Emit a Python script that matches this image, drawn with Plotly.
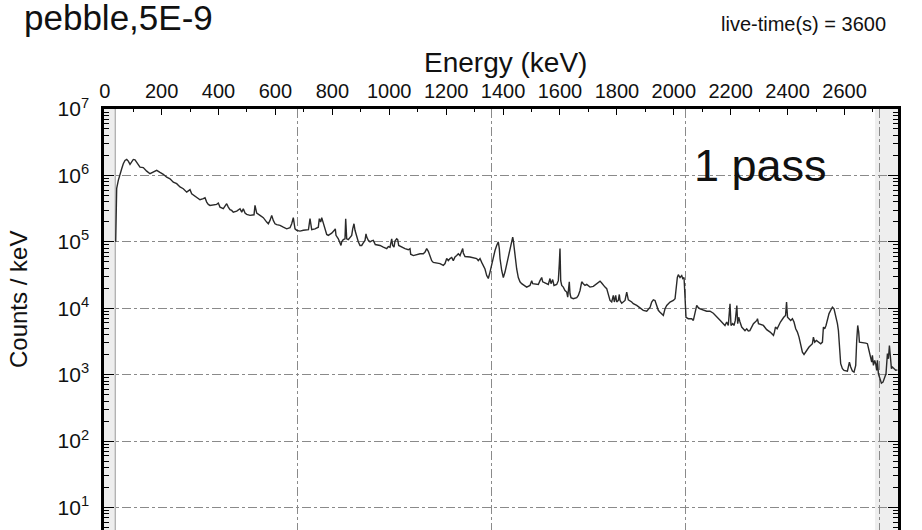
import plotly.graph_objects as go

# Gamma spectrum: energy (keV) and counts per keV
ENERGY_KEV = [
    38.6, 42.1, 47.8, 53.7, 59.7, 65.3, 71.3, 77.3, 82.9, 88.9, 94.9, 100.5, 106.5, 112.4,
    118.1, 124.0, 135.6, 141.6, 147.6, 159.2, 170.8, 182.7, 194.3, 205.9, 217.9, 229.5,
    241.1, 253.0, 264.6, 276.2, 288.2, 293.8, 299.8, 305.7, 311.4, 323.3, 334.9, 346.5,
    352.5, 358.4, 364.1, 370.0, 381.6, 393.6, 399.2, 405.2, 416.8, 428.7, 434.4, 440.3,
    446.3, 451.9, 463.9, 475.5, 481.5, 487.1, 493.1, 499.0, 510.6, 524.7, 528.2, 534.2,
    545.8, 557.4, 569.3, 575.0, 580.9, 586.9, 592.5, 598.5, 604.5, 616.1, 627.7, 639.6,
    651.2, 657.2, 662.8, 668.8, 674.7, 686.4, 698.0, 709.9, 716.0, 721.5, 727.5, 739.1,
    750.7, 754.2, 759.1, 762.6, 768.3, 774.2, 780.2, 785.8, 797.7, 806.9, 810.4, 812.9,
    821.0, 830.4, 832.9, 838.5, 844.5, 846.9, 850.5, 856.1, 862.1, 868.0, 871.6, 876.1,
    879.6, 885.6, 891.2, 897.2, 903.2, 908.8, 914.8, 918.3, 920.8, 926.4, 932.4, 938.3,
    944.0, 951.0, 967.5, 979.1, 991.1, 996.7, 1002.7, 1008.6, 1012.1, 1016.7, 1020.2,
    1026.2, 1029.7, 1033.2, 1043.8, 1055.4, 1067.0, 1073.0, 1075.4, 1084.6, 1108.1,
    1119.7, 1125.7, 1131.6, 1137.3, 1143.2, 1149.2, 1154.8, 1166.8, 1178.4, 1190.0,
    1196.0, 1201.9, 1207.6, 1213.5, 1219.5, 1225.1, 1231.1, 1237.1, 1242.7, 1248.7,
    1254.6, 1258.2, 1260.3, 1266.2, 1283.8, 1295.4, 1307.3, 1313.0, 1319.0, 1324.9,
    1330.6, 1336.5, 1342.5, 1348.1, 1354.1, 1360.1, 1365.7, 1371.7, 1377.6, 1383.3,
    1386.8, 1389.3, 1395.2, 1400.9, 1406.8, 1412.8, 1418.4, 1424.4, 1430.4, 1433.9,
    1436.0, 1442.0, 1447.9, 1453.6, 1459.5, 1465.4, 1477.0, 1483.0, 1494.6, 1500.6,
    1504.2, 1523.9, 1529.8, 1535.8, 1539.3, 1559.0, 1565.0, 1568.5, 1574.4, 1579.0,
    1588.5, 1594.2, 1597.7, 1600.1, 1602.6, 1606.1, 1611.7, 1617.7, 1623.7, 1627.2,
    1632.8, 1635.3, 1638.8, 1646.9, 1658.9, 1664.5, 1670.5, 1676.4, 1682.0, 1688.0,
    1694.0, 1699.6, 1705.6, 1717.2, 1729.2, 1740.8, 1746.7, 1752.4, 1758.3, 1764.3,
    1769.9, 1775.9, 1781.8, 1787.5, 1791.0, 1795.9, 1799.4, 1805.0, 1808.6, 1811.0,
    1817.0, 1828.6, 1834.6, 1840.2, 1852.1, 1857.8, 1869.7, 1881.3, 1892.9, 1904.9,
    1916.9, 1922.4, 1928.1, 1934.0, 1940.0, 1945.6, 1951.6, 1963.3, 1969.2, 1975.2,
    1986.8, 1998.4, 2004.4, 2007.9, 2012.5, 2015.9, 2021.9, 2027.9, 2031.5, 2036.0,
    2039.5, 2043.0, 2051.1, 2063.1, 2068.7, 2074.7, 2080.6, 2086.3, 2092.3, 2115.8,
    2127.4, 2139.0, 2151.0, 2162.6, 2174.0, 2180.0, 2185.9, 2191.6, 2197.6, 2201.1,
    2207.0, 2211.6, 2216.2, 2221.6, 2224.6, 2228.1, 2232.7, 2238.7, 2250.3, 2256.3,
    2261.9, 2267.4, 2279.9, 2291.9, 2294.1, 2297.6, 2314.9, 2326.5, 2338.7, 2350.3,
    2353.8, 2357.3, 2363.2, 2374.8, 2386.4, 2392.8, 2396.3, 2399.8, 2404.9, 2410.9,
    2416.9, 2422.5, 2428.5, 2434.5, 2440.1, 2446.1, 2452.0, 2457.7, 2463.7, 2475.3,
    2487.2, 2490.7, 2495.3, 2501.3, 2516.4, 2522.4, 2525.9, 2530.4, 2535.0, 2539.9,
    2545.6, 2551.5, 2557.5, 2563.1, 2569.1, 2575.1, 2578.6, 2580.6, 2584.2, 2586.6,
    2592.6, 2598.3, 2610.2, 2613.7, 2617.2, 2621.8, 2627.7, 2633.4, 2639.4, 2642.9,
    2646.4, 2649.9, 2652.4, 2674.5, 2680.5, 2686.1, 2692.1, 2695.6, 2698.1, 2701.6,
    2706.1, 2709.6, 2713.2, 2715.7, 2719.2, 2724.8, 2729.7, 2735.3, 2738.8, 2742.3,
    2745.8, 2750.8, 2754.3, 2757.8, 2761.4, 2764.9, 2768.4, 2780.0, 2785.9,
]

COUNTS_PER_KEV = [
    1.0e5, 6.4e5, 8.4e5, 1.06e6, 1.26e6, 1.50e6, 1.68e6, 1.74e6, 1.64e6, 1.47e6, 1.64e6,
    1.74e6, 1.72e6, 1.59e6, 1.42e6, 1.33e6, 1.31e6, 1.22e6, 1.16e6, 1.06e6, 1.12e6,
    1.19e6, 1.11e6, 1.04e6, 9.4e5, 8.9e5, 7.9e5, 7.5e5, 6.7e5, 6.3e5, 5.6e5, 5.9e5,
    6.1e5, 5.3e5, 5.1e5, 4.6e5, 4.3e5, 4.46e5, 4.6e5, 3.96e5, 3.66e5, 3.53e5, 3.62e5,
    3.66e5, 3.83e5, 3.33e5, 3.15e5, 3.75e5, 3.33e5, 3.04e5, 2.97e5, 2.80e5, 2.90e5,
    3.15e5, 2.80e5, 3.15e5, 2.71e5, 2.59e5, 2.50e5, 2.55e5, 3.53e5, 2.71e5, 2.50e5,
    2.31e5, 1.98e5, 1.87e5, 2.10e5, 2.50e5, 2.10e5, 1.87e5, 1.81e5, 1.77e5, 1.66e5,
    1.57e5, 1.63e5, 1.87e5, 2.31e5, 1.57e5, 1.49e5, 1.45e5, 1.49e5, 1.52e5, 1.52e5,
    2.23e5, 1.52e5, 1.57e5, 1.66e5, 2.23e5, 1.98e5, 2.31e5, 1.87e5, 1.57e5, 1.29e5,
    1.25e5, 1.35e5, 1.49e5, 1.57e5, 1.25e5, 1.11e5, 8.8e4, 1.0e5, 1.08e5, 1.11e5,
    2.23e5, 1.11e5, 1.08e5, 1.15e5, 1.25e5, 1.57e5, 1.87e5, 1.49e5, 1.18e5, 1.0e5,
    8.8e4, 8.8e4, 9.6e4, 1.05e5, 1.32e5, 1.18e5, 1.05e5, 1.0e5, 1.03e5, 1.05e5, 9.1e4,
    8.8e4, 8.3e4, 7.9e4, 8.5e4, 8.3e4, 1.11e5, 8.8e4, 8.3e4, 1.03e5, 1.11e5, 1.08e5,
    8.8e4, 8.3e4, 7.9e4, 7.6e4, 7.9e4, 6.5e4, 6.2e4, 6.6e4, 6.6e4, 7.0e4, 7.9e4,
    7.2e4, 6.0e4, 5.2e4, 4.9e4, 4.8e4, 4.7e4, 4.4e4, 4.7e4, 5.6e4, 5.2e4, 5.6e4,
    5.8e4, 5.2e4, 5.9e4, 6.2e4, 6.6e4, 6.2e4, 7.0e4, 7.9e4, 6.8e4, 6.0e4, 5.9e4,
    5.8e4, 5.6e4, 5.2e4, 5.6e4, 4.9e4, 4.4e4, 3.9e4, 3.1e4, 2.8e4, 3.5e4, 4.7e4,
    5.9e4, 7.4e4, 8.8e4, 1.0e5, 7.9e4, 5.6e4, 3.7e4, 2.9e4, 3.5e4, 4.7e4, 5.9e4,
    7.9e4, 1.11e5, 1.18e5, 1.05e5, 6.0e4, 3.9e4, 2.9e4, 2.5e4, 2.34e4, 2.2e4, 2.08e4,
    2.2e4, 2.6e4, 2.34e4, 2.28e4, 2.6e4, 2.9e4, 2.5e4, 2.28e4, 2.8e4, 2.34e4, 2.7e4,
    2.2e4, 2.28e4, 2.6e4, 4.7e4, 7.9e4, 2.6e4, 2.2e4, 2.08e4, 1.85e4, 1.75e4, 1.47e4,
    2.5e4, 1.65e4, 1.44e4, 1.39e4, 1.44e4, 1.56e4, 1.85e4, 2.5e4, 2.34e4, 2.2e4,
    2.28e4, 2.2e4, 2.08e4, 2.13e4, 2.34e4, 2.56e4, 2.4e4, 2.2e4, 2.08e4, 1.97e4,
    1.61e4, 1.31e4, 1.24e4, 1.56e4, 1.24e4, 1.56e4, 1.24e4, 1.31e4, 1.61e4, 1.31e4,
    1.19e4, 1.31e4, 1.75e4, 1.34e4, 1.24e4, 1.17e4, 1.10e4, 1.02e4, 9.3e3, 9.0e3,
    1.04e4, 1.24e4, 1.34e4, 1.31e4, 1.10e4, 9.3e3, 8.7e3, 7.8e3, 9.8e3, 1.10e4,
    1.24e4, 1.31e4, 1.39e4, 2.2e4, 2.9e4, 3.2e4, 2.9e4, 3.1e4, 2.8e4, 2.9e4,
    1.31e4, 7.3e3, 6.95e3, 6.95e3, 6.55e3, 8.3e3, 1.10e4, 1.02e4, 9.8e3, 9.0e3,
    9.0e3, 8.4e3, 7.3e3, 6.6e3, 5.85e3, 5.5e3, 6.2e3, 5.5e3, 1.17e4, 5.5e3,
    5.85e3, 5.5e3, 6.55e3, 1.10e4, 5.85e3, 7.3e3, 6.2e3, 5.2e3, 4.6e3, 4.9e3,
    4.55e3, 4.6e3, 5.85e3, 6.55e3, 6.95e3, 5.85e3, 5.5e3, 4.75e3, 4.37e3, 3.9e3,
    4.37e3, 5.2e3, 4.9e3, 6.2e3, 7.3e3, 7.8e3, 1.24e4, 7.3e3, 6.95e3, 6.55e3,
    6.95e3, 6.2e3, 4.9e3, 4.37e3, 3.67e3, 2.75e3, 2.18e3, 2.01e3, 2.18e3, 2.6e3,
    2.92e3, 3.67e3, 3.09e3, 3.27e3, 2.92e3, 3.09e3, 5.2e3, 4.9e3, 5.5e3, 6.95e3,
    8.3e3, 9.3e3, 1.04e4, 9.8e3, 7.8e3, 5.85e3, 4.6e3, 3.09e3, 2.07e3, 1.46e3,
    1.23e3, 1.16e3, 1.13e3, 1.30e3, 1.54e3, 1.30e3, 1.13e3, 1.09e3, 1.38e3, 3.27e3,
    5.5e3, 4.37e3, 3.09e3, 2.98e3, 2.92e3, 2.31e3, 1.73e3, 1.54e3, 1.95e3, 1.38e3,
    1.64e3, 1.46e3, 1.16e3, 1.64e3, 1.03e3, 818, 745, 771, 867, 973,
    1.03e3, 2.07e3, 1.73e3, 2.75e3, 1.64e3, 1.23e3, 1.30e3, 1.16e3, 1.18e3,
]

# Axis scales
ENERGY_RANGE = [-2.5, 2788.0]       # keV shown across the frame
CHANNEL_RANGE = [0, 4096]           # ADC channels across the same frame
CHANNEL_GRID = [1000, 2000, 3000, 4000]
ENERGY_TICKS = list(range(0, 2601, 200))
DECADES = [1, 2, 3, 4, 5, 6, 7]
Y_LOG_RANGE = [0.66, 7.0]

# Energy windows excluded from the analysis (shaded)
LOW_CUT_KEV = 37.0
HIGH_CUT_KEV = 2707.0

FONT = "Liberation Sans, Arial, sans-serif"
INK = "#111111"

fig = go.Figure()

fig.add_trace(go.Scatter(
    x=ENERGY_KEV, y=COUNTS_PER_KEV, mode="lines",
    line=dict(color="#2a2a2a", width=1.4),
    showlegend=False, hoverinfo="x+y",
))

# empty trace so the channel axis (which carries the vertical grid) is drawn
fig.add_trace(go.Scatter(x=[], y=[], xaxis="x2", yaxis="y", showlegend=False))

fig.add_shape(type="rect", xref="x", yref="paper", x0=ENERGY_RANGE[0], x1=LOW_CUT_KEV,
              y0=0, y1=1, fillcolor="#eeeeee", line=dict(width=0), layer="below")
fig.add_shape(type="line", xref="x", yref="paper", x0=LOW_CUT_KEV, x1=LOW_CUT_KEV,
              y0=0, y1=1, line=dict(color="#9a9a9a", width=1), layer="below")
fig.add_shape(type="rect", xref="x", yref="paper", x0=HIGH_CUT_KEV, x1=ENERGY_RANGE[1],
              y0=0, y1=1, fillcolor="#eeeeee", line=dict(width=0), layer="below")

minor_y = [k * 10 ** n for n in range(0, 7) for k in range(2, 10)]

fig.update_layout(
    width=922, height=530,
    margin=dict(l=104, r=24, t=109, b=0, pad=0),
    paper_bgcolor="white", plot_bgcolor="white",
    font=dict(family=FONT, color=INK),
    xaxis=dict(
        side="top", range=ENERGY_RANGE, tickmode="array", tickvals=ENERGY_TICKS,
        ticks="inside", ticklen=6, tickwidth=1, tickcolor="black",
        tickfont=dict(size=20, family=FONT, color=INK), ticklabelstandoff=0,
        showline=True, linewidth=2.5, linecolor="black", mirror=False,
        showgrid=False, zeroline=False,
        minor=dict(dtick=100, tick0=0, ticks="inside", ticklen=3, tickcolor="black"),
    ),
    xaxis2=dict(
        overlaying="x", side="bottom", range=CHANNEL_RANGE, tickmode="array",
        tickvals=CHANNEL_GRID, showticklabels=False, ticks="",
        showgrid=True, gridcolor="#8a8a8a", gridwidth=1, griddash="dashdot",
        showline=False, zeroline=False,
    ),
    yaxis=dict(
        type="log", range=Y_LOG_RANGE, tickmode="array",
        tickvals=[10 ** d for d in DECADES],
        ticktext=[f"10<sup>{d}</sup>" for d in DECADES],
        ticks="inside", ticklen=10, tickwidth=1, tickcolor="black",
        tickfont=dict(size=21, family=FONT, color=INK), ticklabelstandoff=8,
        showline=True, linewidth=2.5, linecolor="black", mirror="ticks",
        showgrid=True, gridcolor="#8a8a8a", gridwidth=1, griddash="dashdot",
        zeroline=False,
        minor=dict(tickmode="array", tickvals=minor_y, ticks="inside", ticklen=5,
                   tickcolor="black", showgrid=False),
    ),
)

# pixel helpers for text placement around the frame
PLOT_L, PLOT_W, PLOT_B, PLOT_H = 104, 794, 530, 421


def px(xpix):
    return (xpix - PLOT_L) / PLOT_W


def py(ypix):
    return (PLOT_B - ypix) / PLOT_H


notes = [
    dict(text="pebble,5E-9", x=px(22), y=py(18), xanchor="left", size=35),
    dict(text="live-time(s) = 3600", x=px(888), y=py(23.5), xanchor="right", size=20),
    dict(text="Energy (keV)", x=px(505), y=py(62), xanchor="center", size=28),
    dict(text="1 pass", x=px(692), y=py(165), xanchor="left", size=45),
]
for n in notes:
    fig.add_annotation(text=n["text"], xref="paper", yref="paper", x=n["x"], y=n["y"],
                       xanchor=n["xanchor"], yanchor="middle", showarrow=False,
                       font=dict(size=n["size"], family=FONT, color=INK))

fig.add_annotation(text="Counts / keV", xref="paper", yref="paper", x=px(18), y=py(300),
                   xanchor="center", yanchor="middle", textangle=-90, showarrow=False,
                   font=dict(size=24, family=FONT, color=INK))

fig.write_html("out.html")
